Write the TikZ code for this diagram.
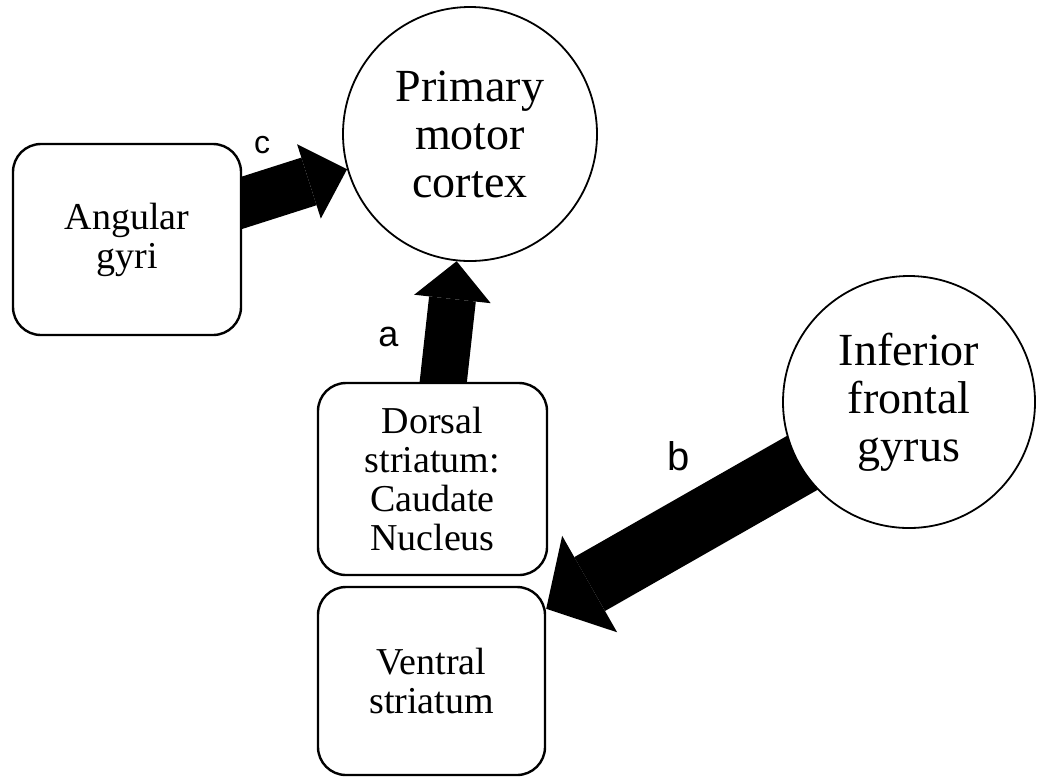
\documentclass[tikz,border=0pt]{standalone}
\usepackage{fontspec}
\setmainfont{Liberation Serif}
\newfontfamily\lblfont{Liberation Sans}
\usetikzlibrary{arrows.meta,backgrounds,calc}
\begin{document}
\begin{tikzpicture}[x=0.5pt,y=-0.5pt,
  box/.style={draw, line width=1.2pt, rounded corners=14pt, fill=white,
    align=center, inner sep=0pt, font=\fontsize{19}{19.5}\selectfont},
  region/.style={draw, circle, line width=0.9pt, fill=white,
    align=center, inner sep=0pt, font=\fontsize{23}{24}\selectfont},
  fat/.style n args={3}{line width=#1, line cap=butt,
    -{Triangle[length=#2, width=#3, line width=0pt]}},
  lbl/.style={inner sep=0pt, font=\lblfont\fontsize{#1}{#1}\selectfont}]
\useasboundingbox (0,0) rectangle (1037,778);
\node[region, minimum size=127pt] (pmc) at (470,134) {Primary\\motor\\cortex};
\node[region, minimum size=126pt] (ifg) at (909,402) {Inferior\\frontal\\gyrus};
\node[box, minimum width=114pt, minimum height=95.5pt] (ag) at (127,239.5) {Angular\\gyri};
\node[box, minimum width=114.5pt, minimum height=96pt] (ds) at (432.5,479) {Dorsal\\striatum:\\Caudate\\Nucleus};
\node[box, minimum width=113.5pt, minimum height=94pt] (vs) at (431.5,681) {Ventral\\striatum};
\coordinate (vsin) at ($(vs.north east)+(0,23)$);
\begin{scope}[on background layer]
  \draw[fat={25pt}{20pt}{39pt}] (ag.center) -- (pmc.196);
  \draw[fat={23.5pt}{19pt}{38.5pt}] (ds.center) -- (pmc.264);
  \draw[fat={31pt}{25pt}{55.5pt}] (ifg.center) -- (vsin);
\end{scope}
\node[lbl=16] (lc) at (262,145) {c};
\node[lbl=18] (la) at (388.5,337) {a};
\node[lbl=20] (lb) at (679,456.5) {b};
\end{tikzpicture}
\end{document}
